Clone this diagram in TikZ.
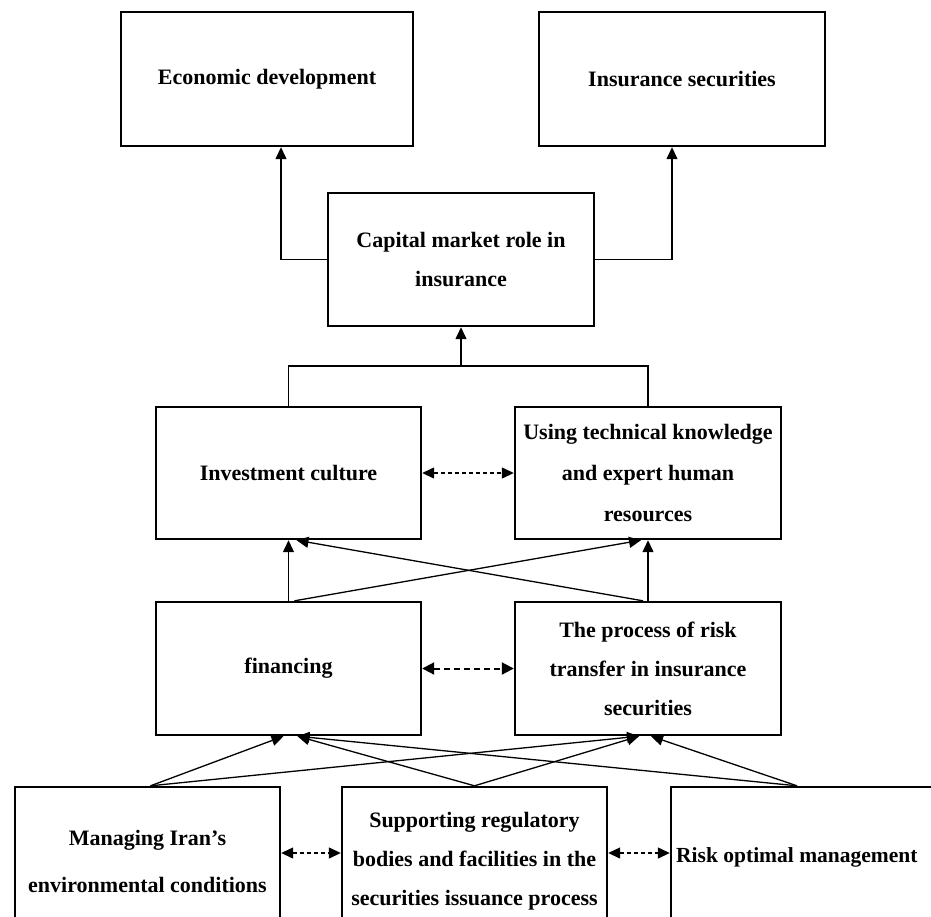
\documentclass[tikz,border=0pt]{standalone}
\usepackage{fontspec}
\setmainfont{Liberation Serif}
\usetikzlibrary{arrows.meta}
\begin{document}
\begin{tikzpicture}[x=1pt,y=-1pt,
  box/.style={draw,line width=2.4pt,rectangle,inner sep=0pt,align=center,
    font=\fontsize{22}{39}\selectfont\bfseries},
  conn/.style={line width=1.3pt},
  arr/.style={conn,-{Triangle[length=12pt,width=11pt]}},
  darr/.style={conn,dashed,dash pattern=on 4pt off 3pt,{Triangle[length=12pt,width=11pt]}-{Triangle[length=12pt,width=11pt]}},
  bdarr/.style={line width=2pt,dash pattern=on 6pt off 4pt,{Triangle[length=12pt,width=12pt]}-{Triangle[length=12pt,width=12pt]}},
  lbl/.style={inner sep=0pt,font=\fontsize{21.5}{39}\selectfont\bfseries}]
\useasboundingbox (0,0) rectangle (931,916);
\fill[white] (0,0) rectangle (931,916);
% boxes
\node[box,minimum width=292pt,minimum height=134pt] (econ) at (267,79) {\raisebox{-3pt}{Economic development}};
\node[box,minimum width=286pt,minimum height=134pt] (ins) at (682,79) {\raisebox{-3pt}{Insurance securities}};
\node[box,minimum width=266pt,minimum height=133pt] (cap) at (461,259.5) {Capital market role in\\insurance};
\node[box,minimum width=265pt,minimum height=132pt] (inv) at (288.5,473) {Investment culture};
\node[box,minimum width=266pt,minimum height=132pt] (use) at (648,473) {Using technical knowledge\\[2pt]and expert human\\[2pt]resources};
\node[box,minimum width=265pt,minimum height=133pt] (fin) at (288.5,668.5) {financing};
\node[box,minimum width=266pt,minimum height=133pt] (risk) at (648,668.5) {The process of risk\\transfer in insurance\\securities};
\node[box,minimum width=265pt,minimum height=148pt] (man) at (147.5,861) {Managing Iran’s\\[8pt]environmental conditions};
\node[box,minimum width=265pt,minimum height=148pt] (sup) at (474.5,861) {Supporting regulatory\\bodies and facilities in the\\securities issuance process};
\node[box,minimum width=269pt,minimum height=148pt] (opt) at (805.5,861) {};
\node[lbl,anchor=west] (optl) at (676,857) {Risk optimal management};
% top connectors
\draw[arr] (cap.west) -| ([xshift=14pt]econ.south);
\draw[arr] (cap.east) -| ([xshift=-10pt]ins.south);
\coordinate (j) at (461,366);
\draw[conn] (inv.north) |- (j) -| (use.north);
\draw[arr] (j) -- (cap.south);
% middle connectors
\draw[arr] (fin.north) -- (inv.south);
\draw[arr] ([xshift=6pt]fin.north) -- ([xshift=-7pt]use.south);
\draw[arr] ([xshift=-5pt]risk.north) -- ([xshift=8pt]inv.south);
\draw[arr] (risk.north) -- (use.south);
% bottom connectors
\draw[arr] ([xshift=3pt]man.north) -- ([xshift=-5pt]fin.south);
\draw[arr] ([xshift=3pt]man.north) -- ([xshift=-9pt]risk.south);
\draw[arr] (sup.north) -- ([xshift=9pt]fin.south);
\draw[arr] (sup.north) -- ([xshift=-9pt]risk.south);
\draw[arr] ([xshift=-8.5pt]opt.north) -- ([xshift=9pt]fin.south);
\draw[arr] ([xshift=-8.5pt]opt.north) -- ([xshift=3pt]risk.south);
% dashed double arrows
\draw[darr] (inv.east) -- (use.west);
\draw[bdarr] (fin.east) -- (risk.west);
\draw[darr] ([yshift=8pt]man.east) -- ([yshift=8pt]sup.west);
\draw[darr] ([yshift=8pt]sup.east) -- ([yshift=8pt]opt.west);
\end{tikzpicture}
\end{document}
